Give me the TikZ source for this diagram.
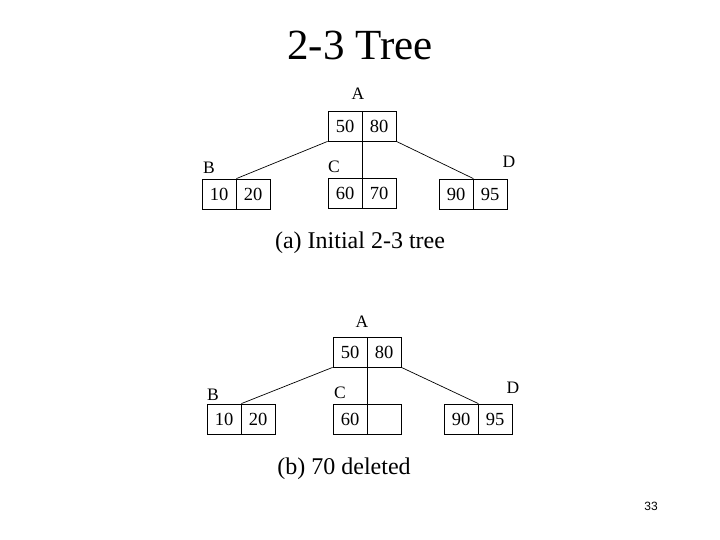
\documentclass[tikz,border=0pt]{standalone}
\usepackage{fontspec}
\setmainfont{Liberation Serif}
\newfontfamily\pagefont{Liberation Sans}
\begin{document}
\begin{tikzpicture}[x=1pt,y=-1pt,
  cell/.style={draw=black,line width=0.8pt,minimum width=34pt,minimum height=30pt,inner sep=0pt,font=\fontsize{18.5}{18.5}\selectfont},
  lbl/.style={inner sep=0pt,font=\fontsize{17.5}{17.5}\selectfont},
  link/.style={draw=black,line width=0.7pt}]
\useasboundingbox[fill=white] (0,0) rectangle (720,540);
\node[inner sep=0pt,font=\fontsize{43}{43}\selectfont] (title) at (360,45) {2-3 Tree};
% tree (a)
\node[cell] (aA1) at (345,126) {50};
\node[cell] (aA2) at (379,126) {80};
\node[cell] (aB1) at (219,194) {10};
\node[cell] (aB2) at (253,194) {20};
\node[cell] (aC1) at (345,193) {60};
\node[cell] (aC2) at (379,193) {70};
\node[cell] (aD1) at (456,194) {90};
\node[cell] (aD2) at (490,194) {95};
\node[lbl] (aLA) at (358,94) {A};
\node[lbl] (aLB) at (209,168) {B};
\node[lbl] (aLC) at (334,167) {C};
\node[lbl] (aLD) at (509,162) {D};
\draw[link] (aA1.south west) -- (aB1.north east);
\draw[link] (aA1.south east) -- (aC1.north east);
\draw[link] (aA2.south east) -- (aD1.north east);
\node[inner sep=0pt,font=\fontsize{24}{24}\selectfont] (capa) at (360,243) {(a) Initial 2-3 tree};
% tree (b)
\node[cell] (bA1) at (350,352) {50};
\node[cell] (bA2) at (384,352) {80};
\node[cell] (bB1) at (224,419) {10};
\node[cell] (bB2) at (258,419) {20};
\node[cell] (bC1) at (350,419) {60};
\node[cell] (bC2) at (384,419) {};
\node[cell] (bD1) at (461,419) {90};
\node[cell] (bD2) at (495,419) {95};
\node[lbl] (bLA) at (362,322) {A};
\node[lbl] (bLB) at (213,395) {B};
\node[lbl] (bLC) at (340,393) {C};
\node[lbl] (bLD) at (513,388) {D};
\draw[link] (bA1.south west) -- (bB1.north east);
\draw[link] (bA1.south east) -- (bC1.north east);
\draw[link] (bA2.south east) -- (bD1.north east);
\node[inner sep=0pt,font=\fontsize{24}{24}\selectfont] (capb) at (344,469) {(b) 70 deleted};
\node[inner sep=0pt,font=\pagefont\fontsize{12}{12}\selectfont] (page) at (651,506) {33};
\end{tikzpicture}
\end{document}
